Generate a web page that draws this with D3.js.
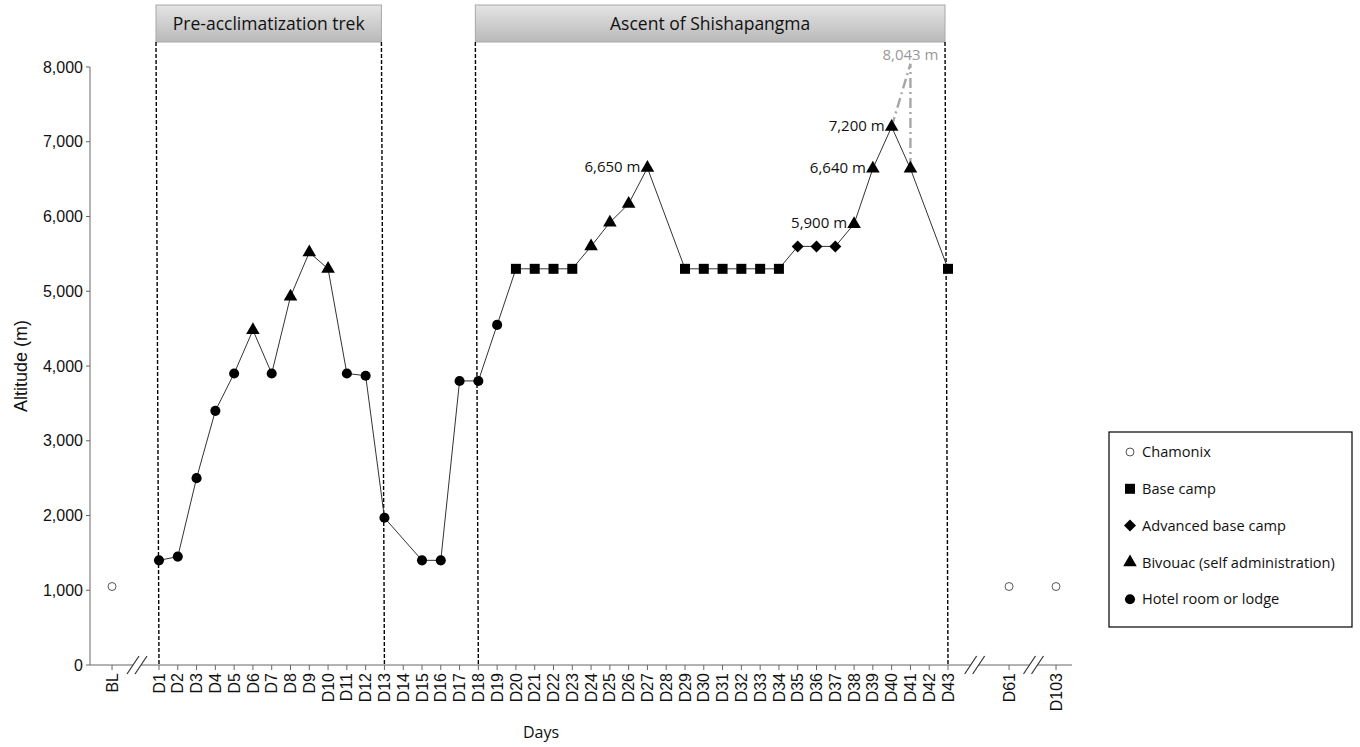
<!DOCTYPE html>
<html>
<head>
<meta charset="utf-8">
<script src="https://cdn.jsdelivr.net/npm/d3@7"></script>
<style>
  body { margin: 0; background: #fff; }
  svg { display: block; }
</style>
</head>
<body>
<svg id="chart" width="1360" height="747"></svg>
<script>
// tick labels along the day axis
const dayLabels = ["BL"].concat(d3.range(1, 44).map(d => "D" + d), ["D61", "D103"]);

// nights on the expedition (no point recorded on D14, D28, D42)
const stayDays = ["D1","D2","D3","D4","D5","D6","D7","D8","D9","D10","D11","D12","D13",
  "D15","D16","D17","D18","D19","D20","D21","D22","D23","D24","D25","D26","D27",
  "D29","D30","D31","D32","D33","D34","D35","D36","D37","D38","D39","D40","D41","D43"];
const stayAltitude = [1400,1450,2500,3400,3900,4480,3900,4930,5520,5300,3900,3870,1970,
  1400,1400,3800,3800,4550,5300,5300,5300,5300,5600,5920,6170,6650,
  5300,5300,5300,5300,5300,5300,5600,5600,5600,5900,6640,7200,6640,5300];
const staySite = ["H","H","H","H","H","T","H","T","T","T","H","H","H",
  "H","H","H","H","H","S","S","S","S","T","T","T","T",
  "S","S","S","S","S","S","D","D","D","T","T","T","T","S"];

// Chamonix measurements
const chamonixDays = ["BL", "D61", "D103"];
const chamonixAltitude = [1050, 1050, 1050];

// summit push (grey dash-dot)
const summitDays = ["D40", "D41", "D41"];
const summitAltitude = [7200, 8043, 6640];

// annotated altitudes
const noteDays = ["D27", "D38", "D39", "D40"];
const noteAltitude = [6650, 5900, 6640, 7200];

// phases
const phaseNames = ["Pre-acclimatization trek", "Ascent of Shishapangma"];
const phaseStart = ["D1", "D18"];
const phaseEnd = ["D13", "D43"];

const legendKeys = ["C", "S", "D", "T", "H"];
const legendNames = ["Chamonix", "Base camp", "Advanced base camp", "Bivouac (self administration)", "Hotel room or lodge"];

const yTicks = d3.range(0, 8001, 1000);

const svg = d3.select("#chart");
const axisColor = "#666";
const tickFont = "'Liberation Sans', Arial, sans-serif";
const textFont = "'Open Sans', sans-serif";

// slot on the axis: days in sequence, with broken gaps for BL, D61, D103
function slot(label) {
  if (label === "BL") return -1.5;
  if (label === "D61") return 46.25;
  if (label === "D103") return 48.75;
  return +label.slice(1);
}

const x = d3.scaleLinear([1, 43], [159, 948]);
const y = d3.scaleLinear([0, 8000], [665, 67]);
const xd = d => x(slot(d));

const axisLeft = 90, axisRight = 1072;

// y axis
svg.append("line")
  .attr("x1", axisLeft).attr("x2", axisLeft)
  .attr("y1", y(0)).attr("y2", y(8000))
  .attr("stroke", axisColor);
const yg = svg.append("g");
yg.selectAll("line").data(yTicks).join("line")
  .attr("x1", axisLeft - 4).attr("x2", axisLeft)
  .attr("y1", d => y(d)).attr("y2", d => y(d))
  .attr("stroke", axisColor);
yg.selectAll("text").data(yTicks).join("text")
  .attr("x", axisLeft - 7).attr("y", d => y(d)).attr("dy", "0.35em")
  .attr("text-anchor", "end")
  .style("font", `16px ${tickFont}`).attr("fill", "#111")
  .text(d3.format(","));

svg.append("text")
  .attr("transform", `translate(27,${y(4000)}) rotate(-90)`)
  .attr("text-anchor", "middle")
  .style("font", `18px ${tickFont}`).attr("fill", "#111")
  .text("Altitude (m)");

// x axis
svg.append("line")
  .attr("x1", axisLeft).attr("x2", axisRight)
  .attr("y1", y(0)).attr("y2", y(0))
  .attr("stroke", axisColor);
const xg = svg.append("g");
xg.selectAll("line").data(dayLabels).join("line")
  .attr("x1", xd).attr("x2", xd)
  .attr("y1", y(0)).attr("y2", y(0) + 5)
  .attr("stroke", axisColor);
xg.selectAll("text").data(dayLabels).join("text")
  .attr("transform", d => `translate(${xd(d)},${y(0) + 8}) rotate(-90)`)
  .attr("dy", "0.35em")
  .attr("text-anchor", "end")
  .style("font", `16px ${tickFont}`).attr("fill", "#111")
  .text(d => d);

// axis breaks
[-0.17, 44.42, 47.55].forEach(s => {
  const cx = x(s);
  svg.append("rect").attr("x", cx - 4).attr("y", y(0) - 2).attr("width", 8).attr("height", 4).attr("fill", "#fff");
  [-4, 4].forEach(off => {
    svg.append("line")
      .attr("x1", cx + off - 6).attr("y1", y(0) + 9)
      .attr("x2", cx + off + 6).attr("y2", y(0) - 9)
      .attr("stroke", "#333").attr("stroke-width", 1.2);
  });
});

svg.append("text")
  .attr("x", 541).attr("y", 738)
  .attr("text-anchor", "middle")
  .style("font", `16px ${textFont}`).attr("fill", "#111")
  .text("Days");

// phase headers and dashed boundaries
phaseNames.forEach((name, i) => {
  const x0 = xd(phaseStart[i]) - 3, x1 = xd(phaseEnd[i]) - 3;
  const grad = svg.append("defs").append("linearGradient")
    .attr("id", "hdr" + i).attr("x1", 0).attr("x2", 0).attr("y1", 0).attr("y2", 1);
  grad.append("stop").attr("offset", 0).attr("stop-color", "#e4e4e4");
  grad.append("stop").attr("offset", 1).attr("stop-color", "#b9b9b9");
  svg.append("rect")
    .attr("x", x0).attr("y", 5).attr("width", x1 - x0).attr("height", 37)
    .attr("fill", `url(#hdr${i})`).attr("stroke", "#a8a8a8");
  svg.append("text")
    .attr("x", (x0 + x1) / 2).attr("y", 24).attr("dy", "0.35em")
    .attr("text-anchor", "middle")
    .style("font", `17.5px ${textFont}`).attr("fill", "#111")
    .text(name);
  [phaseStart[i], phaseEnd[i]].forEach(d => {
    svg.append("line")
      .attr("x1", xd(d) - 3).attr("y1", 42)
      .attr("x2", xd(d)).attr("y2", y(0))
      .attr("stroke", "#000").attr("stroke-width", 1.4)
      .attr("stroke-dasharray", "4,2");
  });
});

// summit dash-dot
const summit = summitDays.map((d, i) => [xd(d), y(summitAltitude[i])]);
svg.append("path")
  .attr("d", d3.line()(summit))
  .attr("fill", "none").attr("stroke", "#a6a6a6").attr("stroke-width", 2.4)
  .attr("stroke-dasharray", "10,4,2,4");
svg.append("text")
  .attr("x", xd("D41")).attr("y", y(8043) - 4)
  .attr("text-anchor", "middle")
  .style("font", `15px ${textFont}`).attr("fill", "#999")
  .text("8,043 m");

// track line
const track = stayDays.map((d, i) => [xd(d), y(stayAltitude[i])]);
svg.append("path")
  .attr("d", d3.line()(track))
  .attr("fill", "none").attr("stroke", "#333").attr("stroke-width", 1);

// markers
const symbolFor = {
  H: d3.symbol(d3.symbolCircle, 80),
  S: d3.symbol(d3.symbolSquare, 100),
  D: d3.symbol(d3.symbolSquare, 72),
  T: d3.symbol(d3.symbolTriangle, 80),
  C: d3.symbol(d3.symbolCircle, 50)
};
function drawMarker(g, key, cx, cy) {
  const p = g.append("path")
    .attr("d", symbolFor[key]())
    .attr("transform", `translate(${cx},${cy})` + (key === "D" ? " rotate(45)" : ""));
  if (key === "C") p.attr("fill", "#fff").attr("stroke", "#555").attr("stroke-width", 1);
  else p.attr("fill", "#000");
}
const marks = svg.append("g");
stayDays.forEach((d, i) => drawMarker(marks, staySite[i], xd(d), y(stayAltitude[i])));
chamonixDays.forEach((d, i) => drawMarker(marks, "C", xd(d), y(chamonixAltitude[i])));

// annotations
svg.append("g").selectAll("text").data(noteDays).join("text")
  .attr("x", d => xd(d) - 7)
  .attr("y", (d, i) => y(noteAltitude[i]) - 1).attr("dy", "0.35em")
  .attr("text-anchor", "end")
  .style("font", `15px ${textFont}`).attr("fill", "#111")
  .text((d, i) => d3.format(",")(noteAltitude[i]) + " m");

// legend
const lg = svg.append("g").attr("transform", "translate(1109,432)");
lg.append("rect").attr("width", 243).attr("height", 195)
  .attr("fill", "#fff").attr("stroke", "#000").attr("stroke-width", 1.2);
legendKeys.forEach((k, i) => {
  const ly = 20 + i * 36.8;
  drawMarker(lg, k, 21, ly);
  lg.append("text").attr("x", 33).attr("y", ly).attr("dy", "0.35em")
    .style("font", `14.6px ${textFont}`).attr("fill", "#111")
    .text(legendNames[i]);
});
</script>
</body>
</html>
